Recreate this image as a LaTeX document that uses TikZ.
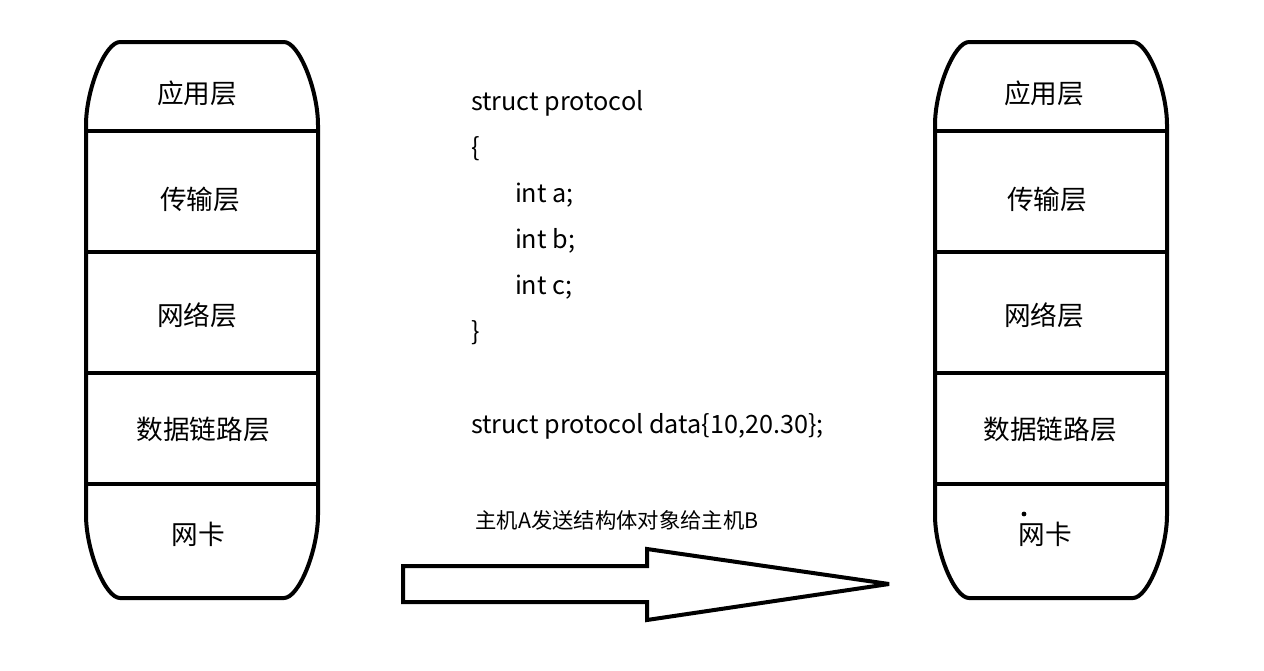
\documentclass[tikz,border=0pt]{standalone}
\usepackage{fontspec}
\setmainfont{Noto Sans CJK SC}

\begin{document}
\begin{tikzpicture}[x=0.75pt,y=-0.75pt,line width=3pt,
  layer/.style={font=\fontsize{20}{24}\selectfont},
  codeline/.style={anchor=base west,inner sep=0pt,font=\fontsize{18.9}{23}\selectfont}]
 \useasboundingbox (0,0) rectangle (1264,671);
 % the two protocol stacks, host A and host B
 \foreach \offset/\host/\dx in {0/A/0,849/B/-2}{%
   \begin{scope}[shift={(\offset,0)}]
   \draw (86,131) -- (86,125) .. controls (86,90) and (105,42) .. (120,42) -- (284,42)
     .. controls (299,42) and (318,90) .. (318,125) -- (318,515)
     .. controls (318,550) and (299,598) .. (284,598) -- (120,598)
     .. controls (105,598) and (86,550) .. (86,515) -- cycle;
   \foreach \y in {131,252,373,484}{%
     \draw (86,\y) -- (318,\y);
   }
   \foreach \x/\y/\lab/\name in {197/93/应用层/app,200/199/传输层/trans,197/315/网络层/net,
     203/429/数据链路层/link,198/534/网卡/nic}{%
     \node[layer] (\host-\name) at (\x+\dx,\y) {\lab};
   }
   \end{scope}
 }
 \fill (1024,514) circle[radius=1.8pt];
 % struct definition
 \foreach \y/\tx/\txt/\name in {110/469/struct protocol/head,156/469/\{/open,202/513/int a;/fa,
   248/513/int b;/fb,294/513/int c;/fc,340/469/\}/close,433/469/{struct protocol data\{10,20.30\};}/inst}{%
   \node[codeline] (code-\name) at (\tx,\y) {\txt};
 }
 \node[font=\fontsize{16}{20}\selectfont] (caption) at (617,520) {主机A发送结构体对象给主机B};
 \draw[line join=miter,miter limit=4] (403,566) -- (647,566) -- (647,549) -- (889,584) -- (647,620)
   -- (647,602) -- (403,602) -- cycle;
\end{tikzpicture}
\end{document}
